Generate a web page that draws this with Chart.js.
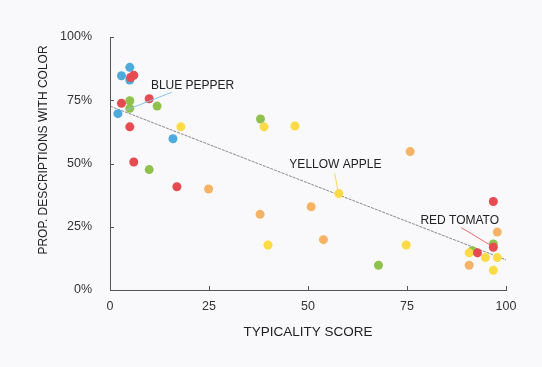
<!DOCTYPE html>
<html>
<head>
<meta charset="utf-8">
<script src="https://cdn.jsdelivr.net/npm/chart.js@4"></script>
<style>
  html, body { margin: 0; padding: 0; background: #f9f9fb; }
  #wrap { width: 542px; height: 367px; }
</style>
</head>
<body>
<div id="wrap"><canvas id="chart"></canvas></div>
<script>
// typicality score (x) vs proportion of descriptions with colour (y, %)
const bluePts = [[5, 88], [2.9, 84.7], [5, 83], [2, 69.7], [15.9, 59.8]];
const redPts = [[5.2, 84], [6, 84.9], [2.9, 73.8], [9.9, 75.6], [5, 64.5], [6, 50.6], [16.9, 40.8], [96.8, 35], [96.8, 16.9], [92.8, 14.7]];
const greenPts = [[5, 74.8], [5, 71.8], [11.9, 72.7], [38, 67.6], [9.9, 47.6], [67.8, 9.8], [96.8, 18.2], [91.5, 15.5]];
const yellowPts = [[17.9, 64.5], [38.9, 64.5], [46.7, 64.8], [57.8, 38.1], [39.9, 17.8], [74.8, 17.8], [90.7, 14.7], [94.8, 12.8], [97.8, 12.8], [96.8, 7.8]];
const orangePts = [[24.9, 39.9], [37.9, 29.9], [50.8, 32.9], [53.9, 19.9], [75.8, 54.7], [97.8, 22.9], [90.7, 9.8]];
const trendPts = [[0, 72.7], [100, 11.9]];

const xTicks = [0, 25, 50, 75, 100];
const yTicks = [0, 25, 50, 75, 100];
const yTitle = "PROP. DESCRIPTIONS WITH COLOR";

const noteText = ["BLUE PEPPER", "YELLOW APPLE", "RED TOMATO"];
const notePoint = [[2, 69.7], [57.8, 38.1], [96.8, 16.9]];

const FONT = '"Liberation Sans", Arial, sans-serif';

function toXY(arr) {
    return arr.map(function (p) { return { x: p[0], y: p[1] }; });
}

function dots(data, color) {
    return {
        type: 'scatter',
        data: toXY(data),
        backgroundColor: color,
        borderWidth: 0,
        pointRadius: 4.5,
        pointHoverRadius: 4.5
    };
}

// label placement relative to the annotated point (pixels)
const noteStyle = [
    { color: '#86c3ea', dx: 33, dy: -24.5, align: 'left', l1: [53.7, -21.4], l2: [8.7, -3.7] },
    { color: '#f7d84e', dx: -3.5, dy: -25.5, align: 'center', l1: [-4.3, -20.4], l2: [-1, -3.7] },
    { color: '#ea6b6b', dx: -33.6, dy: -23, align: 'center', l1: [-32, -19.6], l2: [-3.3, -2.3] }
];

const extras = {
    id: 'extras',
    afterDatasetsDraw(chart) {
        const ctx = chart.ctx, xs = chart.scales.x, ys = chart.scales.y;
        const area = chart.chartArea;
        ctx.save();
        // inward tick marks
        ctx.strokeStyle = '#555';
        ctx.lineWidth = 1;
        ctx.beginPath();
        xTicks.forEach(function (v) {
            const px = Math.round(xs.getPixelForValue(v)) + 0.5;
            ctx.moveTo(px, area.bottom);
            ctx.lineTo(px, area.bottom - 4);
        });
        yTicks.forEach(function (v) {
            const py = Math.round(ys.getPixelForValue(v)) + 0.5;
            ctx.moveTo(area.left, py);
            ctx.lineTo(area.left + 4, py);
        });
        ctx.stroke();

        // y axis title (sits a little above the axis centre)
        ctx.save();
        ctx.translate(44, 150);
        ctx.rotate(-Math.PI / 2);
        ctx.font = '12px ' + FONT;
        ctx.fillStyle = '#222';
        ctx.textAlign = 'center';
        ctx.textBaseline = 'middle';
        ctx.fillText(yTitle, 0, 0);
        ctx.restore();

        // annotations
        ctx.font = '12px ' + FONT;
        ctx.textBaseline = 'alphabetic';
        noteText.forEach(function (t, i) {
            const s = noteStyle[i];
            const px = xs.getPixelForValue(notePoint[i][0]);
            const py = ys.getPixelForValue(notePoint[i][1]);
            ctx.strokeStyle = s.color;
            ctx.beginPath();
            ctx.moveTo(px + s.l1[0], py + s.l1[1]);
            ctx.lineTo(px + s.l2[0], py + s.l2[1]);
            ctx.stroke();
            ctx.fillStyle = '#222';
            ctx.textAlign = s.align;
            ctx.fillText(t, px + s.dx, py + s.dy);
        });
        ctx.restore();
    }
};

const tickFont = { family: FONT, size: 12.5 };

new Chart(document.getElementById('chart'), {
    data: {
        datasets: [
            dots(redPts, '#e84a51'),
            dots(yellowPts, '#fcdb45'),
            dots(bluePts, '#4eaadd'),
            dots(orangePts, '#f6b366'),
            dots(greenPts, '#8fc14c'),
            {
                type: 'line',
                data: toXY(trendPts),
                borderColor: 'rgba(110,110,110,0.8)',
                borderWidth: 1,
                borderDash: [3, 1],
                pointRadius: 0,
                fill: false
            }
        ]
    },
    options: {
        responsive: true,
        maintainAspectRatio: false,
        animation: false,
        clip: false,
        layout: { padding: { left: 0, right: 36, top: 37, bottom: 0 } },
        plugins: { legend: { display: false }, tooltip: { enabled: false } },
        scales: {
            x: {
                type: 'linear',
                min: 0, max: 100,
                afterBuildTicks: function (s) { s.ticks = xTicks.map(function (v) { return { value: v }; }); },
                afterFit: function (s) { s.height = 77; },
                grid: { display: false, drawTicks: false },
                border: { display: true, color: '#555', width: 1 },
                ticks: { padding: 9, color: '#333', font: tickFont },
                title: {
                    display: true, text: 'TYPICALITY SCORE', color: '#222',
                    font: { family: FONT, size: 13.5 },
                    padding: { top: 0, bottom: 27 }
                }
            },
            y: {
                type: 'linear',
                min: 0, max: 100,
                afterBuildTicks: function (s) { s.ticks = yTicks.map(function (v) { return { value: v }; }); },
                afterFit: function (s) { s.width = 110; },
                grid: { display: false, drawTicks: false },
                border: { display: true, color: '#555', width: 1 },
                ticks: { padding: 18, color: '#333', font: tickFont, callback: function (v) { return v + '%'; } },
                title: { display: false }
            }
        }
    },
    plugins: [extras]
});
</script>
</body>
</html>
